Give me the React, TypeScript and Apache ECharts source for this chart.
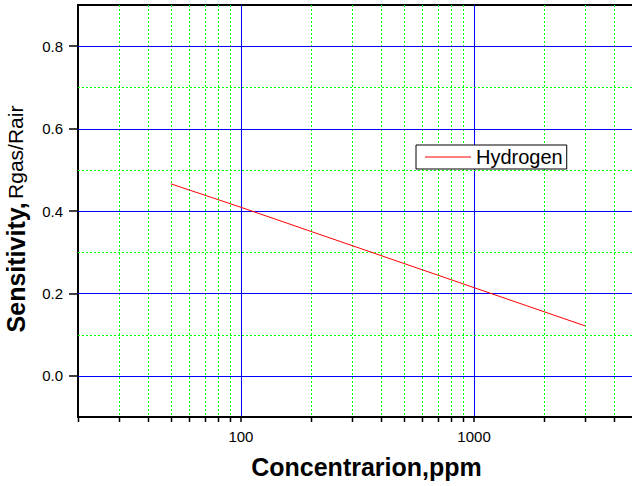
import React, { useEffect, useRef } from 'react';
import * as echarts from 'echarts';

const xMin = 20;
const xMax = 5000;
const yMin = -0.1;
const yMax = 0.9;
const yMajorTicks = [0, 0.2, 0.4, 0.6, 0.8];
const yMinorTicks = [0.1, 0.3, 0.5, 0.7];
const xMinorTicks = [20, 30, 40, 50, 60, 70, 80, 90, 200, 300, 400, 500, 600, 700, 800, 900, 2000, 3000, 4000];
const concentration = [50, 100, 1000, 3000];
const hydrogen = [0.466, 0.409, 0.214, 0.121];

const FONT = '"Liberation Sans", Arial, sans-serif';

export default function App() {
  const ref = useRef<HTMLDivElement>(null);
  useEffect(() => {
    document.body.style.margin = '0';
    const chart = echarts.init(ref.current!, null, { renderer: 'svg' });
    chart.setOption({
      animation: false,
      textStyle: { fontFamily: FONT },
      grid: {
        left: 78,
        top: 5,
        width: 559,
        height: 412,
        show: true,
        borderColor: '#000',
        borderWidth: 2,
        backgroundColor: 'transparent',
        outerBoundsMode: 'none',
        containLabel: false,
      },
      legend: {
        data: ['Hydrogen'],
        left: 416,
        top: 145,
        orient: 'horizontal',
        backgroundColor: '#fff',
        borderColor: '#000',
        borderWidth: 1,
        padding: [2, 4, 2, 9],
        itemWidth: 46,
        itemHeight: 1,
        itemGap: 5,
        icon: 'rect',
        textStyle: { fontSize: 20, color: '#000', fontFamily: FONT },
      },
      xAxis: {
        type: 'log',
        logBase: 10,
        min: xMin,
        max: xMax,
        name: 'Concentrarion,ppm',
        nameLocation: 'middle',
        nameGap: 37,
        nameTextStyle: { fontSize: 25, fontWeight: 'bold', color: '#000', fontFamily: FONT, padding: [0, 0, 0, 18] },
        axisLine: { onZero: false, lineStyle: { color: '#000', width: 2 } },
        axisTick: { show: true, inside: false, length: 5, lineStyle: { color: '#000', width: 1.5 } },
        axisLabel: {
          fontSize: 15,
          color: '#000',
          margin: 12,
          showMinLabel: false,
          showMaxLabel: false,
          fontFamily: FONT,
          formatter: (v: number) => String(Math.round(v)),
        },
        splitLine: { show: true, lineStyle: { color: '#0000ff', width: 1, type: 'solid' } },
        minorTick: { show: false },
      },
      yAxis: {
        type: 'value',
        min: yMin,
        max: yMax,
        name: '{b|Sensitivity,} {n|Rgas/Rair}',
        nameLocation: 'middle',
        nameGap: 50,
        nameTextStyle: {
          color: '#000',
          padding: [0, 16, 0, 0],
          rich: {
            b: { fontSize: 25, fontWeight: 'bold', color: '#000', fontFamily: FONT },
            n: { fontSize: 21, color: '#000', fontFamily: FONT },
          },
        },
        axisLine: { onZero: false, lineStyle: { color: '#000', width: 2 } },
        axisTick: { show: true, inside: false, length: 9, customValues: yMajorTicks, lineStyle: { color: '#000', width: 1.5 } },
        axisLabel: {
          customValues: yMajorTicks,
          fontSize: 15,
          color: '#000',
          margin: 15,
          fontFamily: FONT,
          formatter: (v: number) => v.toFixed(1),
        },
        splitLine: { show: false },
      },
      series: [
        {
          name: 'xminor',
          type: 'custom',
          z: 1,
          silent: true,
          clip: false,
          data: xMinorTicks.map((v) => [v, 0]),
          renderItem: (params: any, api: any) => {
            const cs = params.coordSys;
            const x = Math.round(api.coord([api.value(0), 0])[0]) + 0.5;
            const top = cs.y;
            const bottom = cs.y + cs.height;
            const children: any[] = [];
            if (x > cs.x + 3) {
              children.push({
                type: 'line',
                shape: { x1: x, y1: top, x2: x, y2: bottom },
                style: { stroke: '#00ff00', lineWidth: 1, lineDash: [2, 2] },
              });
            }
            children.push({
              type: 'line',
              shape: { x1: x, y1: bottom, x2: x, y2: bottom + 5 },
              style: { stroke: '#000', lineWidth: 1.5 },
            });
            return { type: 'group', children };
          },
        },
        {
          name: 'yminor',
          type: 'custom',
          z: 1,
          silent: true,
          clip: false,
          data: yMinorTicks.map((v) => [xMin, v]),
          renderItem: (params: any, api: any) => {
            const cs = params.coordSys;
            const y = Math.round(api.coord([xMin, api.value(1)])[1]) + 0.5;
            return {
              type: 'line',
              shape: { x1: cs.x, y1: y, x2: cs.x + cs.width, y2: y },
              style: { stroke: '#00ff00', lineWidth: 1, lineDash: [2, 2] },
            };
          },
        },
        {
          name: 'ymajor',
          type: 'custom',
          z: 1,
          silent: true,
          clip: false,
          data: yMajorTicks.map((v) => [xMin, v]),
          renderItem: (params: any, api: any) => {
            const cs = params.coordSys;
            const y = Math.round(api.coord([xMin, api.value(1)])[1]) + 0.5;
            return {
              type: 'line',
              shape: { x1: cs.x, y1: y, x2: cs.x + cs.width, y2: y },
              style: { stroke: '#0000ff', lineWidth: 1 },
            };
          },
        },
        {
          name: 'Hydrogen',
          type: 'line',
          z: 3,
          symbol: 'none',
          color: '#ff0000',
          lineStyle: { color: '#ff0000', width: 1 },
          data: concentration.map((c, i) => [c, hydrogen[i]]),
        },
      ],
    });
    return () => chart.dispose();
  }, []);
  return <div ref={ref} style={{ width: 632, height: 486 }} />;
}
